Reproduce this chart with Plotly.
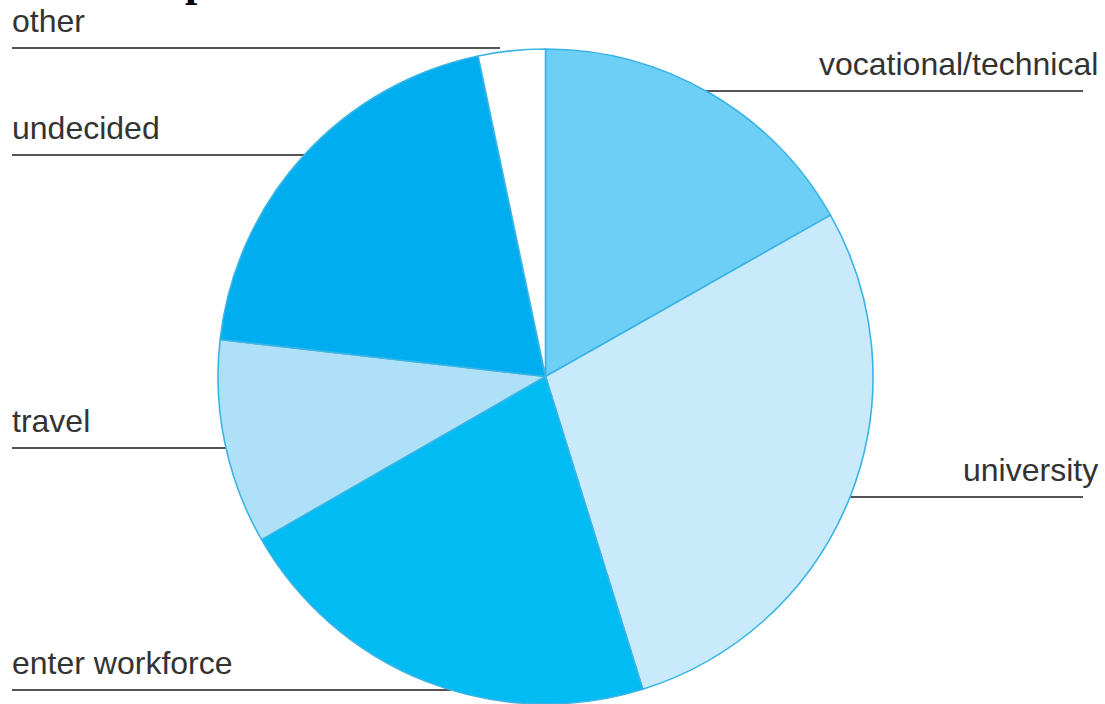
import plotly.graph_objects as go
import math

# ---- data ----
categories = ["vocational/technical", "university", "enter workforce", "travel", "undecided", "other"]
values = [16.8, 28.4, 21.5, 10.1, 19.9, 3.3]
colors = ["#6DCFF6", "#C8EAFB", "#00BCF2", "#AEE1F8", "#00AEEF", "#FFFFFF"]

# label layout: (side, line y in px)
label_side = ["right", "right", "left", "left", "left", "left"]
label_line_y = [91, 497, 690, 448, 155, 48]

W, H = 1105, 704
cx, cy, r = 545.5, 376.5, 327.5


def px(x):
    return x / W


def py(y):
    return 1 - y / H


fig = go.Figure(go.Pie(
    labels=categories,
    values=values,
    sort=False,
    direction="clockwise",
    rotation=0,
    marker=dict(colors=colors, line=dict(color="#3AB4E5", width=1.6)),
    textinfo="none",
    hoverinfo="label+percent",
    showlegend=False,
    domain=dict(x=[px(cx - r), px(cx + r)], y=[0, py(cy - r)]),
))

shapes = []
annotations = []
for name, side, ly in zip(categories, label_side, label_line_y):
    dy = ly - cy
    edge = math.sqrt(max(r * r - dy * dy, 0))
    if side == "left":
        x0, x1 = 12, cx - edge
        if name == "other":
            x1 = 500
        ax, anchor = 10, "left"
    else:
        x0, x1 = cx + edge, 1083
        ax, anchor = 1100, "right"
    shapes.append(dict(type="line", xref="paper", yref="paper",
                       x0=px(x0), x1=px(x1), y0=py(ly), y1=py(ly),
                       line=dict(color="#555555", width=2.2), layer="below"))
    annotations.append(dict(text=name, xref="paper", yref="paper",
                            x=px(ax), y=py(ly - 7), xanchor=anchor, yanchor="bottom",
                            showarrow=False,
                            font=dict(family="Liberation Sans, Arial", size=32, color="#333333")))

# cut-off title glyph at top
annotations.append(dict(text="<b>p</b>", xref="paper", yref="paper", x=px(197), y=1,
                        xanchor="center", yanchor="bottom", yshift=-8, showarrow=False,
                        font=dict(family="Liberation Serif", size=44, color="#000000")))

fig.update_layout(
    width=W, height=H,
    margin=dict(l=0, r=0, t=0, b=0),
    paper_bgcolor="white",
    plot_bgcolor="white",
    shapes=shapes,
    annotations=annotations,
)

fig.write_html("out.html", config={"displayModeBar": False},
               post_script="document.body.style.margin='0';")
